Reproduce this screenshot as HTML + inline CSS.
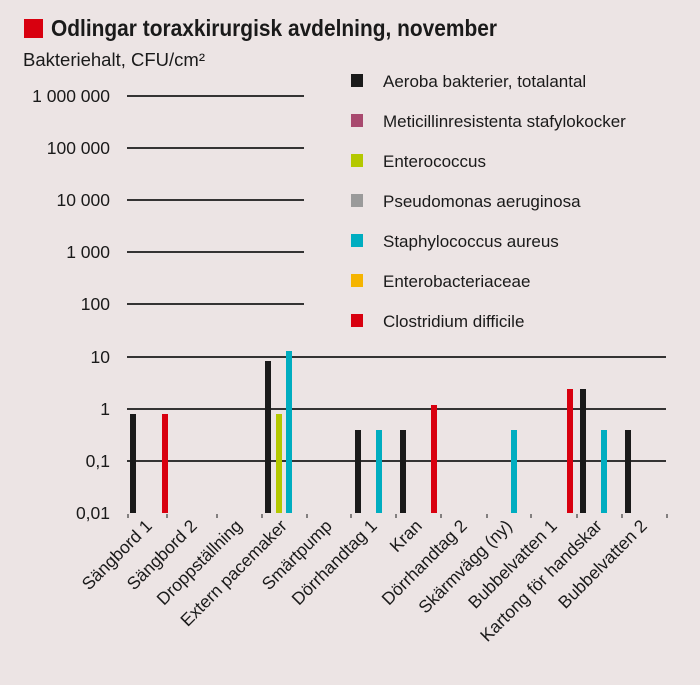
<!DOCTYPE html>
<html><head><meta charset="utf-8"><style>
body{margin:0;background:#ece4e4;}
svg{display:block;font-family:"Liberation Sans","DejaVu Sans",sans-serif;}
</style></head><body>
<svg width="700" height="685" viewBox="0 0 700 685">
<rect width="700" height="685" fill="#ece4e4"/>
<rect x="24" y="19" width="19" height="19" fill="#d8000f"/>
<text x="51" y="36" font-size="23" font-weight="bold" fill="#1a1a1a" textLength="446" lengthAdjust="spacingAndGlyphs">Odlingar toraxkirurgisk avdelning, november</text>
<text x="23" y="66" font-size="18" fill="#1a1a1a" textLength="182" lengthAdjust="spacingAndGlyphs">Bakteriehalt, CFU/cm²</text>
<g stroke="#1a1a1a" stroke-width="1.8">
<line x1="127" y1="96" x2="304" y2="96"/>
<line x1="127" y1="148" x2="304" y2="148"/>
<line x1="127" y1="200" x2="304" y2="200"/>
<line x1="127" y1="252" x2="304" y2="252"/>
<line x1="127" y1="304" x2="304" y2="304"/>
<line x1="127" y1="357" x2="666" y2="357"/>
<line x1="127" y1="409" x2="666" y2="409"/>
<line x1="127" y1="461" x2="666" y2="461"/>
</g>
<g font-size="17.5" fill="#1a1a1a" text-anchor="end">
<text x="110" y="102">1 000 000</text>
<text x="110" y="154">100 000</text>
<text x="110" y="206">10 000</text>
<text x="110" y="258">1 000</text>
<text x="110" y="310">100</text>
<text x="110" y="363">10</text>
<text x="110" y="415">1</text>
<text x="110" y="467">0,1</text>
<text x="110" y="519">0,01</text>
</g>
<g stroke="#1a1a1a" stroke-width="1">
<line x1="128" y1="514" x2="128" y2="518"/><line x1="167" y1="514" x2="167" y2="518"/>
<line x1="217" y1="514" x2="217" y2="518"/><line x1="262" y1="514" x2="262" y2="518"/>
<line x1="307" y1="514" x2="307" y2="518"/><line x1="351" y1="514" x2="351" y2="518"/>
<line x1="396" y1="514" x2="396" y2="518"/><line x1="441" y1="514" x2="441" y2="518"/>
<line x1="487" y1="514" x2="487" y2="518"/><line x1="531" y1="514" x2="531" y2="518"/>
<line x1="577" y1="514" x2="577" y2="518"/><line x1="622" y1="514" x2="622" y2="518"/>
<line x1="667" y1="514" x2="667" y2="518"/>
</g>
<g>
<rect x="130" y="414" width="6" height="99" fill="#1a1a1a"/>
<rect x="162" y="414" width="6" height="99" fill="#d8000f"/>
<rect x="265" y="361" width="6" height="152" fill="#1a1a1a"/>
<rect x="276" y="414" width="6" height="99" fill="#b4c800"/>
<rect x="286" y="351" width="6" height="162" fill="#00adc0"/>
<rect x="355" y="430" width="6" height="83" fill="#1a1a1a"/>
<rect x="376" y="430" width="6" height="83" fill="#00adc0"/>
<rect x="400" y="430" width="6" height="83" fill="#1a1a1a"/>
<rect x="431" y="405" width="6" height="108" fill="#d8000f"/>
<rect x="511" y="430" width="6" height="83" fill="#00adc0"/>
<rect x="567" y="389" width="6" height="124" fill="#d8000f"/>
<rect x="580" y="389" width="6" height="124" fill="#1a1a1a"/>
<rect x="601" y="430" width="6" height="83" fill="#00adc0"/>
<rect x="625" y="430" width="6" height="83" fill="#1a1a1a"/>
</g>
<g font-size="17.5" fill="#1a1a1a" text-anchor="end">
<text transform="translate(153,527) rotate(-45)">Sängbord 1</text>
<text transform="translate(198,527) rotate(-45)">Sängbord 2</text>
<text transform="translate(243,527) rotate(-45)">Droppställning</text>
<text transform="translate(288,527) rotate(-45)">Extern pacemaker</text>
<text transform="translate(333,527) rotate(-45)">Smärtpump</text>
<text transform="translate(378,527) rotate(-45)">Dörrhandtag 1</text>
<text transform="translate(423,527) rotate(-45)">Kran</text>
<text transform="translate(468,527) rotate(-45)">Dörrhandtag 2</text>
<text transform="translate(513,527) rotate(-45)">Skärmvägg (ny)</text>
<text transform="translate(558,527) rotate(-45)">Bubbelvatten 1</text>
<text transform="translate(603,527) rotate(-45)">Kartong för handskar</text>
<text transform="translate(648,527) rotate(-45)">Bubbelvatten 2</text>
</g>
<g font-size="17" fill="#1a1a1a">
<rect x="351" y="74" width="12" height="13" fill="#1a1a1a"/><text x="383" y="87">Aeroba bakterier, totalantal</text>
<rect x="351" y="114" width="12" height="13" fill="#a8496e"/><text x="383" y="127">Meticillinresistenta stafylokocker</text>
<rect x="351" y="154" width="12" height="13" fill="#b4c800"/><text x="383" y="167">Enterococcus</text>
<rect x="351" y="194" width="12" height="13" fill="#9a9a9a"/><text x="383" y="207">Pseudomonas aeruginosa</text>
<rect x="351" y="234" width="12" height="13" fill="#00adc0"/><text x="383" y="247">Staphylococcus aureus</text>
<rect x="351" y="274" width="12" height="13" fill="#f5b400"/><text x="383" y="287">Enterobacteriaceae</text>
<rect x="351" y="314" width="12" height="13" fill="#d8000f"/><text x="383" y="327">Clostridium difficile</text>
</g>
</svg>
</body></html>
